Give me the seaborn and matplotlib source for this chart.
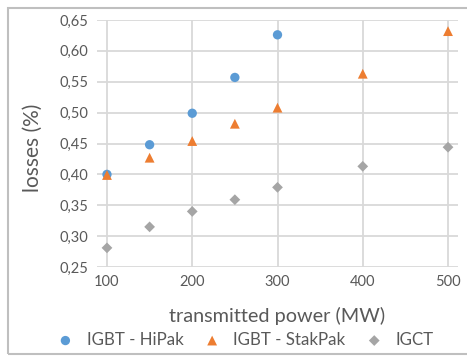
import seaborn as sns
import matplotlib.pyplot as plt
import pandas as pd
from matplotlib.patches import Rectangle
from matplotlib.ticker import FuncFormatter

# values
power_hipak = [100, 150, 200, 250, 300]
loss_hipak = [0.400, 0.448, 0.499, 0.557, 0.626]

power_stakpak = [100, 150, 200, 250, 300, 400, 500]
loss_stakpak = [0.399, 0.427, 0.454, 0.482, 0.508, 0.563, 0.632]

power_igct = [100, 150, 200, 250, 300, 400, 500]
loss_igct = [0.281, 0.315, 0.340, 0.359, 0.379, 0.413, 0.444]

x_ticks = [100, 200, 300, 400, 500]
y_ticks = [0.25, 0.30, 0.35, 0.40, 0.45, 0.50, 0.55, 0.60, 0.65]

text_col = '#595959'
grid_col = '#D9D9D9'

sns.set_style('white')
plt.rcParams['font.family'] = ['Lato', 'DejaVu Sans']

fig = plt.figure(figsize=(4.67, 3.56), dpi=100)
ax = fig.add_axes([97 / 467, 89 / 356, 361 / 467, 247 / 356])

series = [
    ('IGBT - HiPak', power_hipak, loss_hipak, '#5B9BD5', 'o', 45),
    ('IGBT - StakPak', power_stakpak, loss_stakpak, '#ED7D31', '^', 50),
    ('IGCT', power_igct, loss_igct, '#A5A5A5', 'D', 30),
]

for name, xs, ys, col, mk, size in series:
    df = pd.DataFrame({'power': xs, 'loss': ys})
    sns.scatterplot(x='power', y='loss', data=df, ax=ax, color=col, marker=mk,
                    s=size, edgecolor='none', label=name, zorder=3)

ax.set_xlim(88.3, 511.7)
ax.set_ylim(0.25, 0.65)
ax.set_xticks(x_ticks)
ax.set_yticks(y_ticks)
ax.yaxis.set_major_formatter(FuncFormatter(lambda v, p: f'{v:.2f}'.replace('.', ',')))
ax.grid(True, color=grid_col, linewidth=1.3)
ax.set_axisbelow(True)
for s in ax.spines.values():
    s.set_visible(False)
ax.tick_params(colors=text_col, labelsize=10.5, length=0, pad=6)

ax.set_xlabel('transmitted power (MW)', color=text_col, fontsize=14.3, labelpad=13)
ax.set_ylabel('losses (%)', color=text_col, fontsize=15)
ax.yaxis.set_label_coords(-0.15, 0.482)

ax.legend_.remove()
handles, labels = ax.get_legend_handles_labels()
leg = fig.legend(handles, labels, loc='center', bbox_to_anchor=(241 / 467, 1 - 340 / 356),
                 ncol=3, frameon=False, fontsize=12.2, handletextpad=0.25, columnspacing=0.7,
                 markerscale=1.0, borderaxespad=0)
for t in leg.get_texts():
    t.set_color(text_col)

# light frame around the chart area
fig.patches.append(Rectangle((8 / 467, 2 / 356), 470 / 467, 346 / 356, transform=fig.transFigure,
                             fill=False, edgecolor='#BFBFBF', linewidth=1.5))

plt.savefig('out.png', dpi=100)
